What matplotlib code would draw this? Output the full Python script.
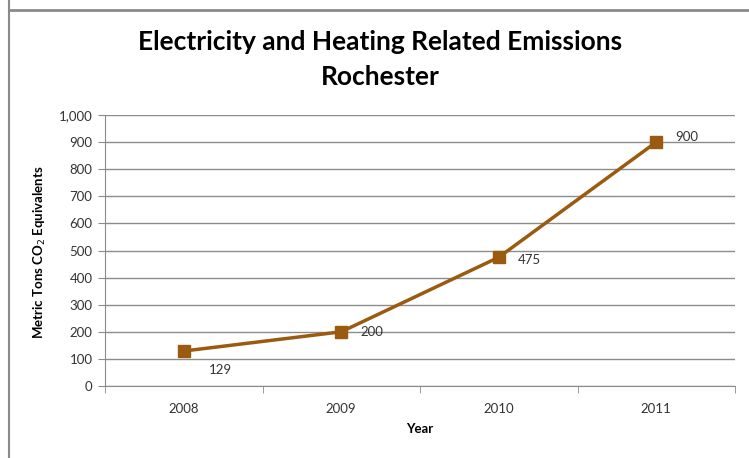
import matplotlib
matplotlib.use("Agg")
import matplotlib.pyplot as plt
from matplotlib.lines import Line2D

plt.rcParams['font.family'] = ['Lato', 'DejaVu Sans']

# data
years = ["2008", "2009", "2010", "2011"]
emissions = [129, 200, 475, 900]
y_ticks = [0, 100, 200, 300, 400, 500, 600, 700, 800, 900, 1000]

brown = "#9A5A10"
grid_gray = "#8C8C8C"

fig = plt.figure(figsize=(7.49, 4.58), dpi=100)
ax = fig.add_axes([105 / 749, 1 - 386 / 458, 630 / 749, 271 / 458])

x = list(range(len(years)))
ax.plot(x, emissions, color=brown, lw=2.5, marker="s", markersize=8.5,
        markerfacecolor=brown, markeredgecolor=brown, zorder=3)

# data labels, placed like the Excel ones
offsets = [(18, -14), (14, 0), (14, -2), (14, 4)]
for xi, val, off in zip(x, emissions, offsets):
    ax.annotate(str(val), (xi, val), xytext=off, textcoords="offset points",
                fontsize=9.5, color="#333333", va="center", ha="left")

ax.set_xlim(-0.5, len(years) - 0.5)
ax.set_ylim(0, 1000)
ax.set_yticks(y_ticks)
ax.set_yticklabels(["{:,}".format(v) for v in y_ticks])
ax.yaxis.grid(True, color=grid_gray, lw=1)
ax.set_axisbelow(True)

# categories sit between the tick marks
ax.set_xticks(x)
ax.set_xticklabels(years)
ax.set_xticks([i - 0.5 for i in range(len(years) + 1)], minor=True)
ax.tick_params(axis="x", which="major", length=0, pad=12, labelsize=9.5, colors="#333333")
ax.tick_params(axis="x", which="minor", length=5, color=grid_gray, direction="out")
ax.tick_params(axis="y", length=5, color=grid_gray, labelsize=9.5, colors="#333333", pad=4)

for side in ["top", "right"]:
    ax.spines[side].set_visible(False)
ax.spines["left"].set_color(grid_gray)
ax.spines["bottom"].set_color(grid_gray)

ax.set_xlabel("Year", fontsize=9.5, fontweight="bold", labelpad=6)
fig.text(40 / 749, 1 - 252 / 458, "Metric Tons CO$_2$ Equivalents", rotation=90,
         fontsize=9.5, fontweight="bold", ha="center", va="center")

fig.text(380 / 749, 1 - 42 / 458, "Electricity and Heating Related Emissions",
         fontsize=19, fontweight="bold", ha="center", va="center")
fig.text(380 / 749, 1 - 77 / 458, "Rochester",
         fontsize=19, fontweight="bold", ha="center", va="center")

# frame of the screenshot
fig.add_artist(Line2D([9 / 749, 1], [1 - 10 / 458, 1 - 10 / 458], color="#8A8A8A", lw=2,
                      transform=fig.transFigure))
fig.add_artist(Line2D([9 / 749, 9 / 749], [0, 1], color="#8A8A8A", lw=1.5,
                      transform=fig.transFigure))

fig.savefig("out.png", dpi=100)
